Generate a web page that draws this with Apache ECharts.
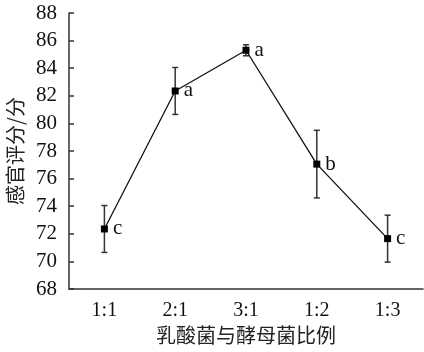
<!DOCTYPE html>
<html>
<head>
<meta charset="utf-8">
<script src="https://cdn.jsdelivr.net/npm/echarts@6/dist/echarts.min.js"></script>
<style>
  html, body { margin: 0; padding: 0; background: #fff; }
  #chart { width: 424px; height: 352px; }
</style>
</head>
<body>
<div id="chart"></div>
<script>
// 乳酸菌与酵母菌比例 vs 感官评分
const categories = ['1:1', '2:1', '3:1', '1:2', '1:3'];
const means = [72.35, 82.35, 85.3, 77.05, 71.65];
const errors = [1.7, 1.7, 0.4, 2.45, 1.7];
const letters = ['c', 'a', 'a', 'b', 'c'];
const yTicks = [68, 70, 72, 74, 76, 78, 80, 82, 84, 86, 88];

const serif = 'Liberation Serif, Times New Roman, serif';
const cjk = 'Noto Sans CJK SC';
const axisColor = '#333';

let myChart = echarts.init(document.getElementById('chart'));

// 误差线数据: [类别索引, 下限, 上限]
let errData = means.map(function (m, i) {
  return [i, m - errors[i], m + errors[i]];
});

var option = {
  animation: false,
  grid: { left: 69, right: 1, top: 13, bottom: 63, outerBoundsMode: 'none', containLabel: false },
  xAxis: {
    type: 'category',
    data: categories,
    name: '乳酸菌与酵母菌比例',
    nameLocation: 'middle',
    nameGap: 36,
    nameTextStyle: { fontFamily: cjk, fontSize: 20, color: '#222' },
    axisLine: { lineStyle: { color: axisColor, width: 1.5 } },
    axisTick: { inside: true, alignWithLabel: true, length: 5, lineStyle: { color: axisColor, width: 1.5 } },
    axisLabel: { fontFamily: serif, fontSize: 20, color: '#111', margin: 12 },
    splitLine: { show: false }
  },
  yAxis: {
    type: 'value',
    min: yTicks[0],
    max: yTicks[yTicks.length - 1],
    interval: 2,
    name: '感官评分/分',
    nameLocation: 'middle',
    nameGap: 44,
    nameRotate: 90,
    nameTextStyle: { fontFamily: cjk, fontSize: 20, color: '#222' },
    axisLine: { show: true, lineStyle: { color: axisColor, width: 1.5 } },
    axisTick: { show: true, inside: true, length: 5, lineStyle: { color: axisColor, width: 1.5 } },
    axisLabel: { fontFamily: serif, fontSize: 21, color: '#111', margin: 12 },
    splitLine: { show: false }
  },
  series: [
    {
      type: 'custom',
      name: 'err',
      data: errData,
      z: 3,
      renderItem: function (params, api) {
        let x = api.value(0);
        let lo = api.coord([x, api.value(1)]);
        let hi = api.coord([x, api.value(2)]);
        let w = 3;
        let style = { stroke: axisColor, lineWidth: 1.5 };
        return {
          type: 'group',
          children: [
            { type: 'line', shape: { x1: hi[0], y1: hi[1], x2: lo[0], y2: lo[1] }, style: style },
            { type: 'line', shape: { x1: hi[0] - w, y1: hi[1], x2: hi[0] + w, y2: hi[1] }, style: style },
            { type: 'line', shape: { x1: lo[0] - w, y1: lo[1], x2: lo[0] + w, y2: lo[1] }, style: style }
          ]
        };
      }
    },
    {
      type: 'line',
      name: '感官评分',
      data: means,
      z: 4,
      symbol: 'rect',
      symbolSize: 7,
      lineStyle: { color: '#111', width: 1.3 },
      itemStyle: { color: '#000' },
      label: {
        show: true,
        position: 'right',
        distance: 5,
        fontFamily: serif,
        fontSize: 21,
        color: '#111',
        formatter: function (p) { return letters[p.dataIndex]; }
      }
    }
  ]
};

myChart.setOption(option);
</script>
</body>
</html>
